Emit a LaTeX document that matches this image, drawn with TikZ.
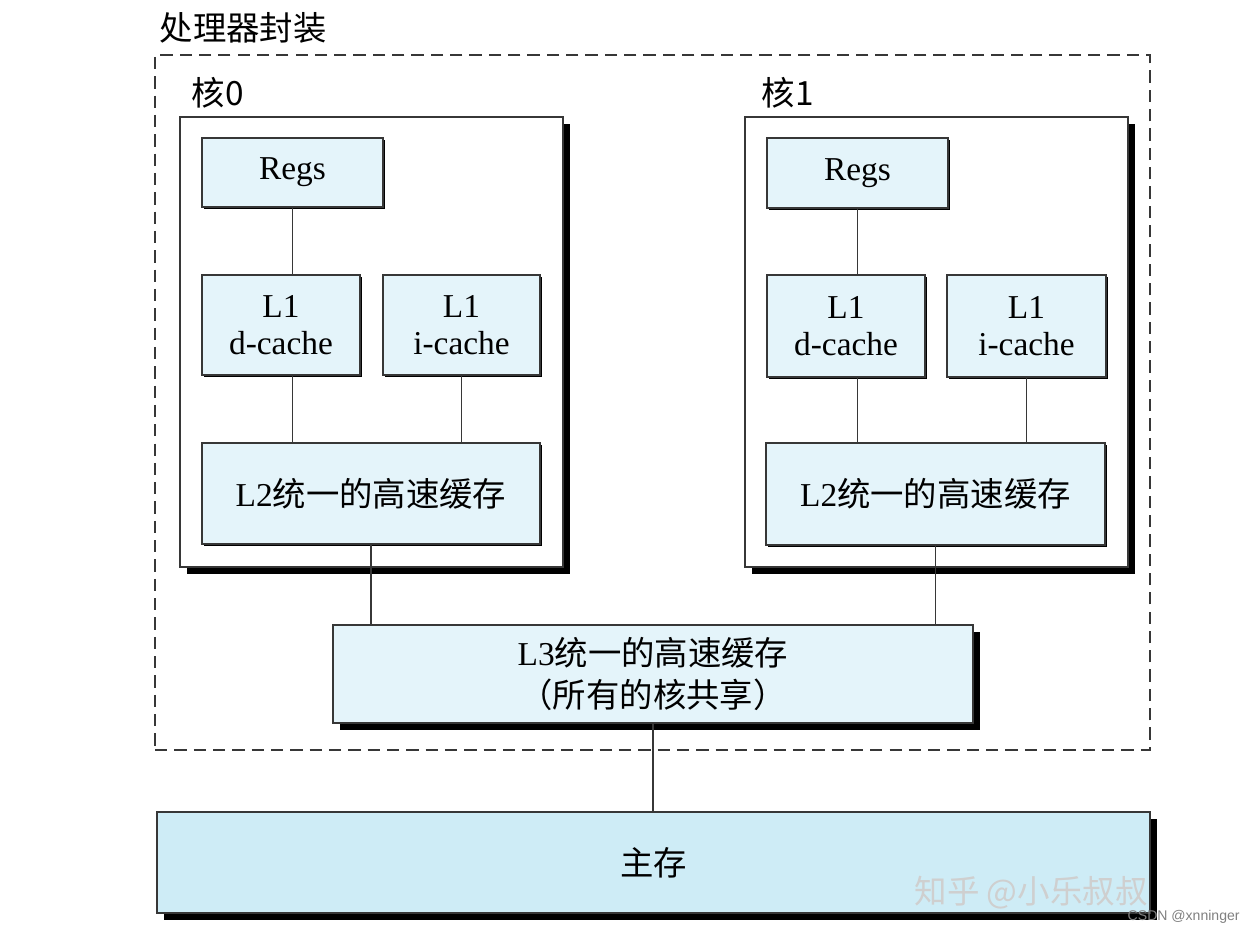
\documentclass[tikz,border=0pt]{standalone}
\usepackage{fontspec}
\setmainfont{Liberation Serif}
\newfontfamily\cjk{Noto Sans CJK SC}
\newfontfamily\wmsans{Liberation Sans}
\usepackage{tikz}
\usetikzlibrary{positioning,shadows}
\definecolor{cacheBlue}{RGB}{228,244,250}
\definecolor{memBlue}{RGB}{206,236,246}
\definecolor{edgeGray}{RGB}{55,55,55}
\newcommand{\zhtext}[1]{{\cjk #1}}

\begin{document}
\begin{tikzpicture}[x=0.02cm, y=-0.02cm,
    cachebox/.style={draw=edgeGray, line width=0.7pt, fill=cacheBlue,
      align=center, inner sep=0pt, font=\fontsize{19}{21}\selectfont,
      drop shadow={shadow xshift=0.04cm, shadow yshift=-0.04cm,
        opacity=1, fill=black}},
    corebox/.style={draw=edgeGray, line width=0.8pt, fill=white,
      inner sep=0pt,
      drop shadow={shadow xshift=0.14cm, shadow yshift=-0.14cm,
        opacity=1, fill=black}},
    pkgbox/.style={draw=edgeGray, line width=0.8pt, dash pattern=on 7pt off 4pt,
      inner sep=0pt},
    corelabel/.style={inner sep=0pt, font=\cjk\fontsize{19}{19}\selectfont},
    link/.style={draw=edgeGray, line width=0.7pt}
  ]
  \useasboundingbox[fill=white] (0,0) rectangle (1255,934);

  % processor package
  \node[pkgbox, minimum width=19.9cm, minimum height=13.9cm] (pkg) at (652.5,402.5) {};
  \node[inner sep=0pt, font=\cjk\fontsize{19}{19}\selectfont,
    above right=0.22cm and 0.1cm of pkg.north west] (pkgtitle) {处理器封装};

  % core 0
  \node[corebox, minimum width=7.66cm, minimum height=9cm] (core0) at (371.5,342) {};
  \node[corelabel, above right=0.16cm and 0.24cm of core0.north west] (core0lbl) {核0};
  \node[cachebox, minimum width=3.62cm, minimum height=1.38cm] (regs0) at (292.5,172.5) {Regs};
  \node[cachebox, minimum width=3.16cm, minimum height=2cm] (dc0) at (281,325) {L1\\d-cache};
  \node[cachebox, minimum width=3.14cm, minimum height=2cm] (ic0) at (461.5,325) {L1\\i-cache};
  \node[cachebox, minimum width=6.76cm, minimum height=2.02cm] (l2a) at (371,493.5)
    {L2\zhtext{统一的高速缓存}};

  % core 1
  \node[corebox, minimum width=7.66cm, minimum height=9cm] (core1) at (936.5,342) {};
  \node[corelabel, above right=0.16cm and 0.34cm of core1.north west] (core1lbl) {核1};
  \node[cachebox, minimum width=3.62cm, minimum height=1.4cm] (regs1) at (857.5,173) {Regs};
  \node[cachebox, minimum width=3.16cm, minimum height=2.04cm] (dc1) at (846,326) {L1\\d-cache};
  \node[cachebox, minimum width=3.18cm, minimum height=2.04cm] (ic1) at (1026.5,326) {L1\\i-cache};
  \node[cachebox, minimum width=6.78cm, minimum height=2.04cm] (l2b) at (935.5,494)
    {L2\zhtext{统一的高速缓存}};

  % shared cache and memory
  \node[corebox, fill=cacheBlue, minimum width=12.8cm, minimum height=1.96cm,
    align=center, font=\fontsize{19}{24}\selectfont] (l3) at (653,674)
    {L3\zhtext{统一的高速缓存}\\\zhtext{（所有的核共享）}};
  \node[corebox, fill=memBlue, minimum width=19.86cm, minimum height=2.02cm,
    font=\cjk\fontsize{19}{21}\selectfont] (mem) at (653.5,862.5) {主存};

  % connections
  \draw[link] (regs0.south) -- (regs0.south |- dc0.north);
  \draw[link] (regs0.south |- dc0.south) -- (regs0.south |- l2a.north);
  \draw[link] (ic0.south) -- (ic0.south |- l2a.north);
  \draw[link] (regs1.south) -- (regs1.south |- dc1.north);
  \draw[link] (regs1.south |- dc1.south) -- (regs1.south |- l2b.north);
  \draw[link] (ic1.south) -- (ic1.south |- l2b.north);
  \draw[link] (l2a.south) -- (l2a.south |- l3.north);
  \draw[link] (l2b.south) -- (l2b.south |- l3.north);
  \draw[link] (l3.south) -- (l3.south |- mem.north);

  % watermarks
  \node[inner sep=0pt, text=white!62!gray, font=\cjk\fontsize{18.5}{18.5}\selectfont,
    anchor=east] (wmzh) at (1148,893) {知乎 @小乐叔叔};
  \node[inner sep=0pt, text=gray, font=\wmsans\fontsize{8}{8}\selectfont,
    anchor=east] (wmcsdn) at (1240,917) {CSDN @xnninger};
\end{tikzpicture}
\end{document}
